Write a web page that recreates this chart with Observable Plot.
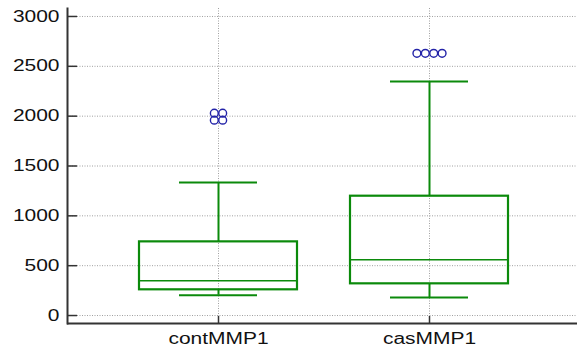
<!DOCTYPE html>
<html>
<head>
<meta charset="utf-8">
<script src="https://cdn.jsdelivr.net/npm/d3@7"></script>
<script src="https://cdn.jsdelivr.net/npm/@observablehq/plot@0.6"></script>
<style>
  html, body { margin: 0; padding: 0; background: #fff; overflow: hidden; }
</style>
</head>
<body>
<div id="chart"></div>
<script>
// ---- data ----
const categories = ["contMMP1", "casMMP1"];
const lowWhisker  = [204, 181];
const q1          = [258, 318];
const median      = [348, 559];
const q3          = [739, 1197];
const highWhisker = [1334, 2348];
const outlierCategory = ["contMMP1", "contMMP1", "contMMP1", "contMMP1", "casMMP1", "casMMP1", "casMMP1", "casMMP1"];
const outlierValue    = [2030, 2030, 1960, 1960, 2630, 2630, 2630, 2630];
const yTicks = [0, 500, 1000, 1500, 2000, 2500, 3000];

// ---- tables built from the arrays ----
const boxes = categories.map((c, i) => ({
  cat: c, lo: lowWhisker[i], q1: q1[i], med: median[i], q3: q3[i], hi: highWhisker[i]
}));
const outliers = outlierValue.map((v, i) => ({cat: outlierCategory[i], value: v}));
// side-by-side placement of coincident outliers
const groups = d3.group(outliers, d => d.cat + "|" + d.value);
for (const g of groups.values()) g.forEach((d, j) => { d.slot = j - (g.length - 1) / 2; });

const green = "#0b8a0b";
const gridStyle = {stroke: "#a0a0a0", strokeDasharray: "1,1.5", strokeWidth: 1};
const W = 577, H = 347, mL = 67, mR = 0, mT = 8, mB = 24;
const frameW = W - mL - mR, frameH = H - mT - mB;

const chart = Plot.plot({
  width: W, height: H,
  marginLeft: mL, marginRight: mR, marginTop: mT, marginBottom: mB,
  style: {fontFamily: "'Liberation Sans', Arial, sans-serif", fontSize: "16px", color: "#111", background: "#fff"},
  x: {type: "band", domain: categories, range: [69, 579], paddingInner: 0.25, paddingOuter: 0.33, label: null},
  y: {domain: [-80, 3080], label: null},
  marks: [
    // grid
    Plot.ruleY(yTicks, {...gridStyle}),
    Plot.ruleX(categories, {...gridStyle}),
    // axes labels
    Plot.axisY({ticks: yTicks, tickSize: 0, tickPadding: 8, tickFormat: d => String(d), label: null}),
    Plot.axisX({tickSize: 0, tickPadding: 9, label: null}),
    // inward ticks
    Plot.ruleY(yTicks, {stroke: "#333", strokeWidth: 1.5, insetRight: frameW - 10}),
    Plot.ruleX(categories, {stroke: "#333", strokeWidth: 1.5, insetTop: frameH - 7}),
    // whiskers
    Plot.ruleX(boxes, {x: "cat", y1: "q3", y2: "hi", stroke: green, strokeWidth: 2}),
    Plot.ruleX(boxes, {x: "cat", y1: "lo", y2: "q1", stroke: green, strokeWidth: 2}),
    Plot.tickY(boxes, {x: "cat", y: "hi", stroke: green, strokeWidth: 2, insetLeft: 40, insetRight: 40}),
    Plot.tickY(boxes, {x: "cat", y: "lo", stroke: green, strokeWidth: 2, insetLeft: 40, insetRight: 40}),
    // box
    Plot.barY(boxes, {x: "cat", y1: "q1", y2: "q3", fill: "none", stroke: green, strokeWidth: 2.2}),
    Plot.tickY(boxes, {x: "cat", y: "med", stroke: green, strokeWidth: 1.5}),
    // outliers
    Plot.dot(outliers, {x: "cat", y: "value", r: 3.9, stroke: "#2323a8", strokeWidth: 1.4, fill: "none",
      render: (index, scales, values, dims, context, next) => {
        const g = next(index, scales, values, dims, context);
        d3.select(g).selectAll("circle").each(function(_, k) {
          const i = index[k];
          const cx = +this.getAttribute("cx");
          this.setAttribute("cx", cx + outliers[i].slot * 8.4);
        });
        return g;
      }}),
    // axis lines
    Plot.ruleY([-80], {stroke: "#333", strokeWidth: 2}),
    Plot.frame({anchor: "left", stroke: "#333", strokeWidth: 2})
  ]
});

// horizontally widen the text as in the reference
d3.select(chart).selectAll("text").each(function() {
  const t = this.getAttribute("transform");
  if (t) {
    this.setAttribute("transform", t + " scale(1.31,1)");
  } else {
    const x = +(this.getAttribute("x") || 0), y = +(this.getAttribute("y") || 0);
    this.removeAttribute("x"); this.removeAttribute("y");
    this.setAttribute("transform", `translate(${x},${y}) scale(1.31,1)`);
  }
});

document.getElementById("chart").appendChild(chart);
</script>
</body>
</html>
